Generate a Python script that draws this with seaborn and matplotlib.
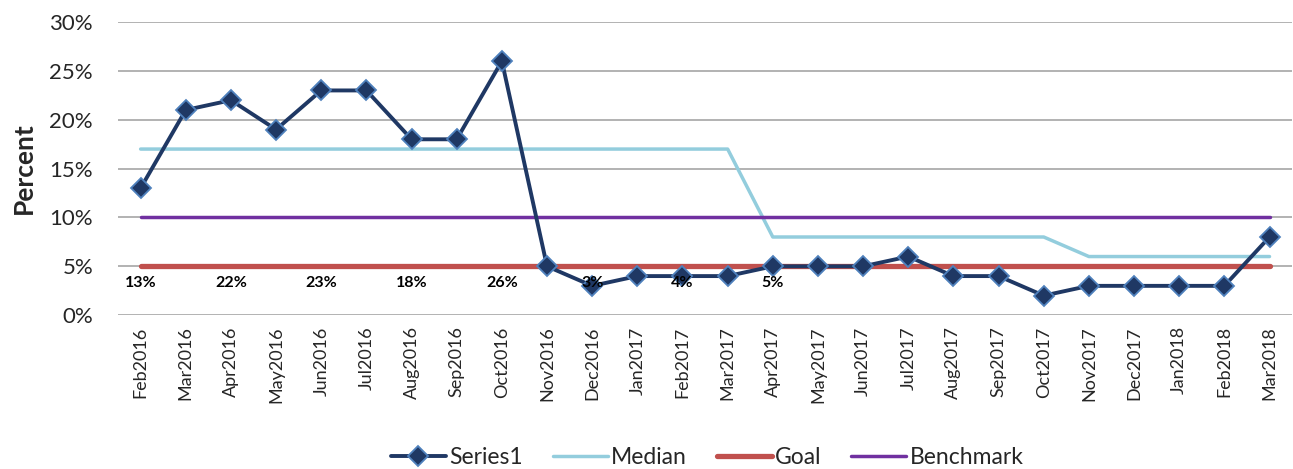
import pandas as pd
import matplotlib.pyplot as plt
import seaborn as sns

# chart data
months = ['Feb2016', 'Mar2016', 'Apr2016', 'May2016', 'Jun2016', 'Jul2016',
          'Aug2016', 'Sep2016', 'Oct2016', 'Nov2016', 'Dec2016', 'Jan2017',
          'Feb2017', 'Mar2017', 'Apr2017', 'May2017', 'Jun2017', 'Jul2017',
          'Aug2017', 'Sep2017', 'Oct2017', 'Nov2017', 'Dec2017', 'Jan2018',
          'Feb2018', 'Mar2018']
series1 = [13, 21, 22, 19, 23, 23, 18, 18, 26, 5, 3, 4, 4,
           4, 5, 5, 5, 6, 4, 4, 2, 3, 3, 3, 3, 8]
median = [17, 17, 17, 17, 17, 17, 17, 17, 17, 17, 17, 17, 17,
          17, 8, 8, 8, 8, 8, 8, 8, 6, 6, 6, 6, 6]
goal = [5] * 26
benchmark = [10] * 26
label_idx = [0, 2, 4, 6, 8, 10, 12, 14]

sns.set_style("white")
plt.rcParams['font.family'] = ['Lato', 'DejaVu Sans']

df = pd.DataFrame({'Month': months, 'Series1': series1, 'Median': median,
                   'Goal': goal, 'Benchmark': benchmark})
df['x'] = range(len(months))

fig = plt.figure(figsize=(12.93, 4.69), dpi=100)
ax = fig.add_axes([0.0913, 0.328, 0.908, 0.625])

sns.lineplot(data=df, x='x', y='Series1', ax=ax, color='#1F3864', linewidth=2.8,
             marker='D', markersize=10, markerfacecolor='#1F3864',
             markeredgecolor='#4F81BD', markeredgewidth=1.3, label='Series1',
             zorder=5)
sns.lineplot(data=df, x='x', y='Median', ax=ax, color='#93CDDD', linewidth=2.5,
             label='Median', zorder=3)
sns.lineplot(data=df, x='x', y='Goal', ax=ax, color='#C0504D', linewidth=3.8,
             label='Goal', zorder=4)
sns.lineplot(data=df, x='x', y='Benchmark', ax=ax, color='#7030A0',
             linewidth=2.5, label='Benchmark', zorder=3)

for i in label_idx:
    ax.text(i, 3.3, f"{series1[i]}%", ha='center', va='center',
            fontsize=11.5, fontweight='bold', color='black', zorder=6)

ax.set_xlim(-0.5, len(months) - 0.5)
ax.set_ylim(0, 30)
ax.set_yticks(range(0, 31, 5))
ax.set_yticklabels([f"{v}%" for v in range(0, 31, 5)], fontsize=16)
ax.set_xticks(df['x'])
ax.set_xticklabels(months, rotation=90, fontsize=13)
ax.tick_params(axis='x', length=0, pad=8)
ax.tick_params(axis='y', length=0, pad=18)
ax.yaxis.grid(True, color='#A6A6A6', linewidth=1.2)
ax.set_axisbelow(True)
for s in ax.spines.values():
    s.set_visible(False)
ax.set_xlabel('')
ax.set_ylabel('Percent', fontsize=19, fontweight='bold', labelpad=10)

fig.legend(*ax.get_legend_handles_labels(), loc='center',
           bbox_to_anchor=(0.547, 0.025), ncol=4, frameon=False, fontsize=16.5,
           handlelength=2.4, columnspacing=1.3, handletextpad=0.15)
ax.get_legend().remove()

fig.savefig('out.png', dpi=100)
